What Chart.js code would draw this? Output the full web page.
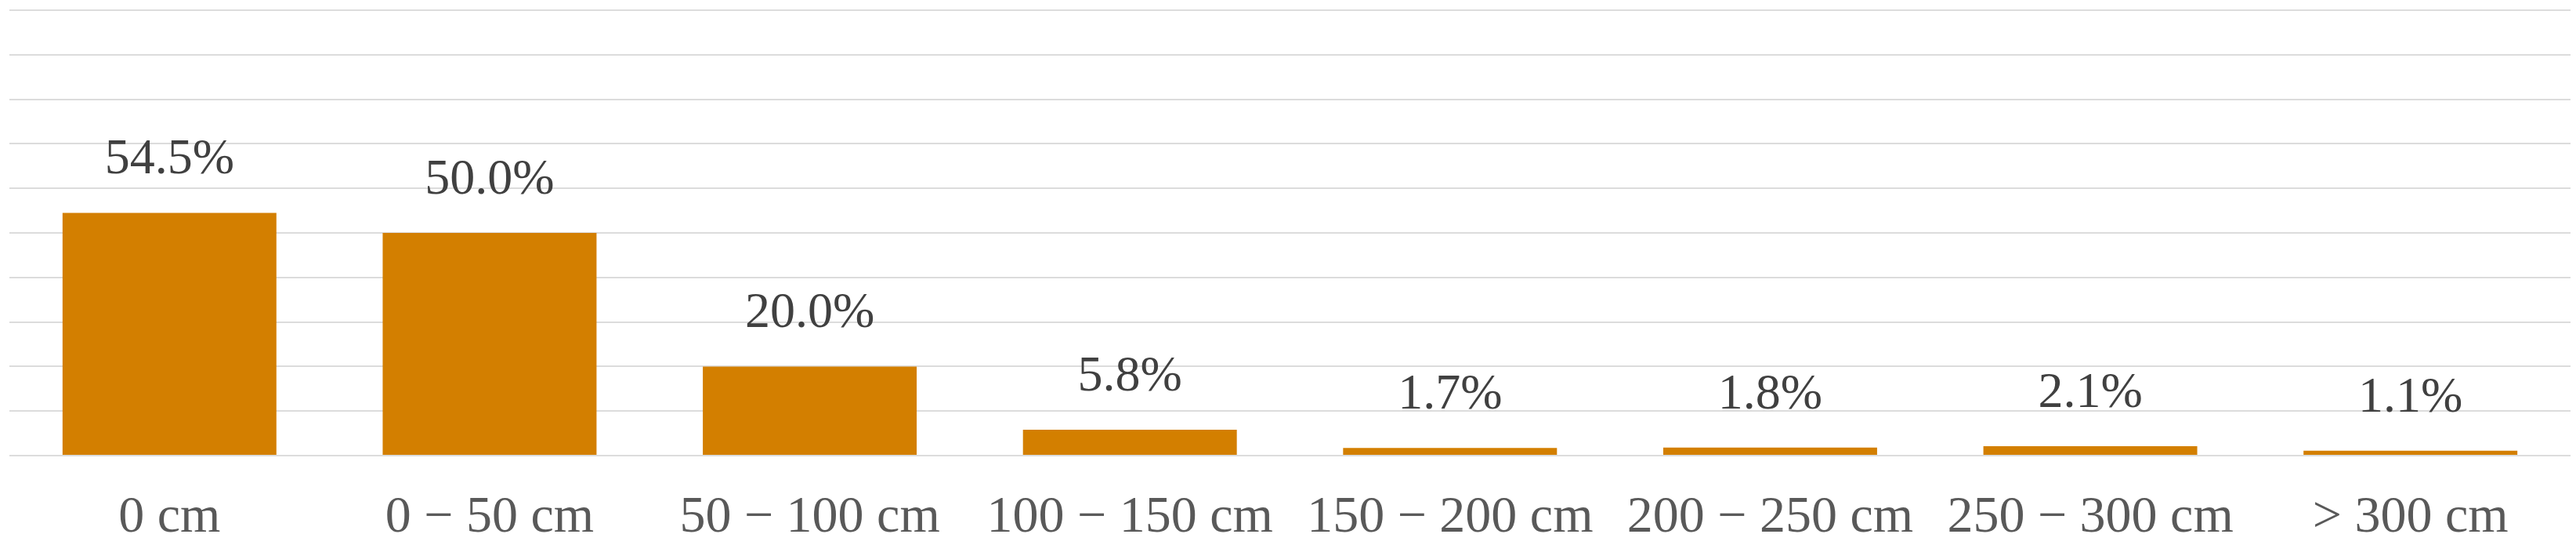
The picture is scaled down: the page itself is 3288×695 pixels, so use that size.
<!DOCTYPE html>
<html>
<head>
<meta charset="utf-8">
<script src="https://cdn.jsdelivr.net/npm/chart.js@4.4.0/dist/chart.umd.min.js"></script>
<style>
  html, body { margin: 0; padding: 0; background: #ffffff; }
  #wrap { width: 3288px; height: 695px; }
</style>
</head>
<body>
<div id="wrap"><canvas id="grafico"></canvas></div>
<script>
// datos
const categorias = ["0 cm", "0 \u2212 50 cm", "50 \u2212 100 cm", "100 \u2212 150 cm", "150 \u2212 200 cm", "200 \u2212 250 cm", "250 \u2212 300 cm", "> 300 cm"];
const porcentajes = [54.5, 50.0, 20.0, 5.8, 1.7, 1.8, 2.1, 1.1];
const ejeMax = 100;
const ejePaso = 10;

const fuente = "'Liberation Serif', 'Times New Roman', serif";

// etiquetas encima de cada barra
const etiquetasBarras = {
  id: "etiquetasBarras",
  afterDatasetsDraw(chart) {
    const ctx = chart.ctx;
    const meta = chart.getDatasetMeta(0);
    ctx.save();
    ctx.font = "64px " + fuente;
    ctx.fillStyle = "#404040";
    ctx.textAlign = "center";
    ctx.textBaseline = "alphabetic";
    meta.data.forEach((barra, i) => {
      ctx.fillText(porcentajes[i].toFixed(1) + "%", barra.x, barra.y - 50);
    });
    ctx.restore();
  }
};

const canvas = document.getElementById("grafico");
new Chart(canvas, {
  type: "bar",
  data: {
    labels: categorias,
    datasets: [{
      data: porcentajes,
      backgroundColor: "#D37F00",
      borderWidth: 0,
      categoryPercentage: 1,
      barPercentage: 0.668
    }]
  },
  options: {
    responsive: true,
    maintainAspectRatio: false,
    animation: false,
    layout: { padding: { left: 12, right: 7, top: 13, bottom: 0 } },
    plugins: {
      legend: { display: false },
      tooltip: { enabled: false }
    },
    scales: {
      x: {
        grid: { display: false, drawTicks: false },
        border: { display: false },
        ticks: {
          color: "#595959",
          font: { family: fuente, size: 66, lineHeight: 1 },
          padding: 47,
          maxRotation: 0,
          autoSkip: false
        },
        afterFit(escala) {
          escala.height = 114;
        }
      },
      y: {
        min: 0,
        max: ejeMax,
        grid: { color: "#DCDCDC", lineWidth: 2, drawTicks: false },
        border: { display: false },
        ticks: { display: false, stepSize: ejePaso }
      }
    }
  },
  plugins: [etiquetasBarras]
});
</script>
</body>
</html>
